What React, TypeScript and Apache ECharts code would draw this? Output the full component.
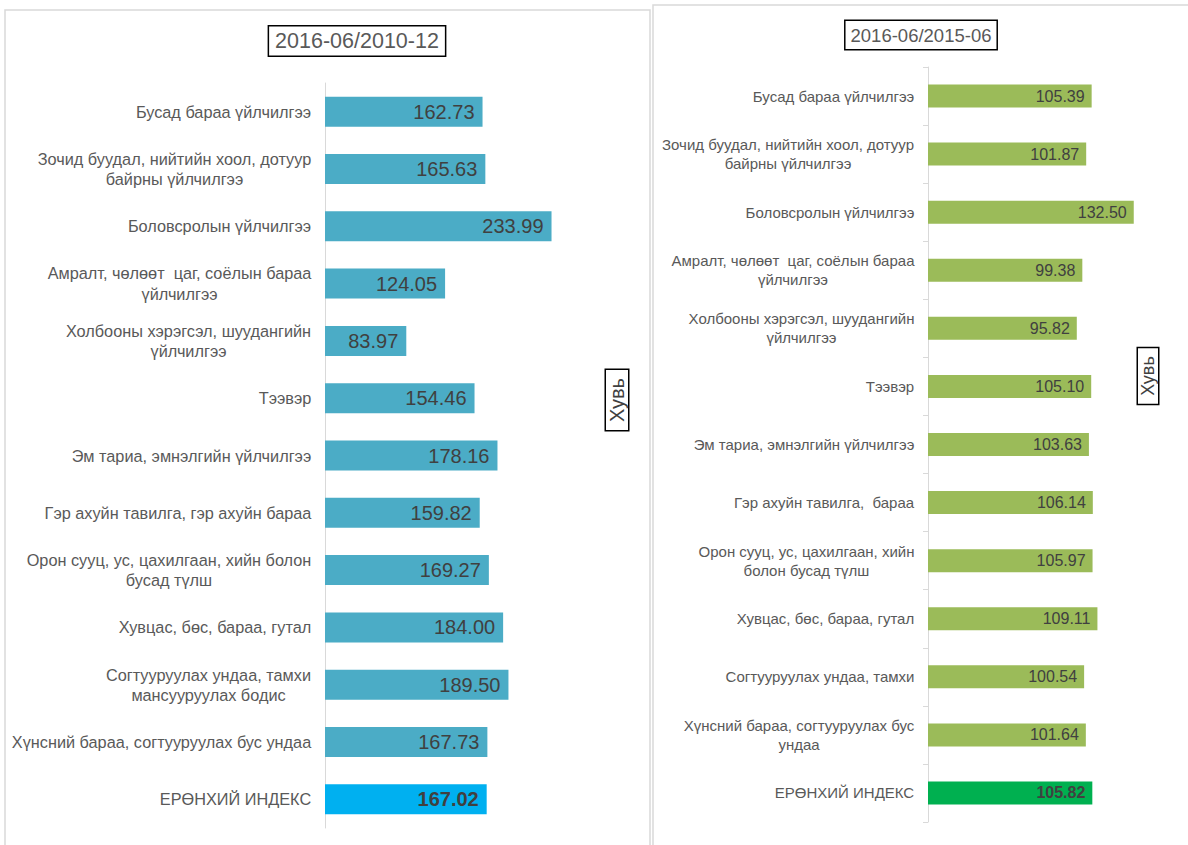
import React, { useEffect, useRef } from "react";
import * as echarts from "echarts";

const leftTitle = "2016-06/2010-12";
const rightTitle = "2016-06/2015-06";
const axisName = "Хувь";

const leftCategories = [
  "Бусад бараа үйлчилгээ",
  "Зочид буудал, нийтийн хоол, дотуур\nбайрны үйлчилгээ",
  "Боловсролын үйлчилгээ",
  "Амралт, чөлөөт  цаг, соёлын бараа\nүйлчилгээ",
  "Холбооны хэрэгсэл, шуудангийн\nүйлчилгээ",
  "Тээвэр",
  "Эм тариа, эмнэлгийн үйлчилгээ",
  "Гэр ахуйн тавилга, гэр ахуйн бараа",
  "Орон сууц, ус, цахилгаан, хийн болон\nбусад түлш",
  "Хувцас, бөс, бараа, гутал",
  "Согтууруулах ундаа, тамхи\nмансууруулах бодис",
  "Хүнсний бараа, согтууруулах бус ундаа",
  "ЕРӨНХИЙ ИНДЕКС",
];
const leftValues = [162.73, 165.63, 233.99, 124.05, 83.97, 154.46, 178.16, 159.82, 169.27, 184.0, 189.5, 167.73, 167.02];

const rightCategories = [
  "Бусад бараа үйлчилгээ",
  "Зочид буудал, нийтийн хоол, дотуур\nбайрны үйлчилгээ",
  "Боловсролын үйлчилгээ",
  "Амралт, чөлөөт  цаг, соёлын бараа\nүйлчилгээ",
  "Холбооны хэрэгсэл, шуудангийн\nүйлчилгээ",
  "Тээвэр",
  "Эм тариа, эмнэлгийн үйлчилгээ",
  "Гэр ахуйн тавилга,  бараа",
  "Орон сууц, ус, цахилгаан, хийн\nболон бусад түлш",
  "Хувцас, бөс, бараа, гутал",
  "Согтууруулах ундаа, тамхи",
  "Хүнсний бараа, согтууруулах бус\nундаа",
  "ЕРӨНХИЙ ИНДЕКС",
];
const rightValues = [105.39, 101.87, 132.5, 99.38, 95.82, 105.1, 103.63, 106.14, 105.97, 109.11, 100.54, 101.64, 105.82];

const FONT = "'Liberation Sans', Arial, sans-serif";

function measure(text: string, size: number): number {
  const c = document.createElement("canvas").getContext("2d") as CanvasRenderingContext2D;
  c.font = `${size}px ${FONT}`;
  return Math.max(...text.split("\n").map((l) => c.measureText(l).width));
}

function richFor(cats: string[], size: number) {
  const rich: Record<string, any> = {};
  cats.forEach((c, i) => {
    rich["l" + i] = {
      width: Math.ceil(measure(c, size)) + 1,
      align: "center",
      fontSize: size,
      fontFamily: FONT,
      color: "#595959",
      lineHeight: size + 4,
    };
  });
  return rich;
}

export default function App() {
  const ref = useRef<HTMLDivElement>(null);
  useEffect(() => {
    document.body.style.margin = "0";
    const chart = echarts.init(ref.current!, null, { renderer: "svg" });
    const lastL = leftValues.length - 1;
    const lastR = rightValues.length - 1;
    const leftSize = 16.3;
    const rightSize = 15;
    chart.setOption({
      animation: false,
      backgroundColor: "#fff",
      textStyle: { fontFamily: FONT },
      grid: [
        { left: 325, top: 83, width: 251.7, height: 745, containLabel: false, outerBoundsMode: "none" },
        { left: 928, top: 67, width: 217.4, height: 755, containLabel: false, outerBoundsMode: "none" },
      ],
      xAxis: [
        { type: "value", gridIndex: 0, min: 0, max: 260, show: false },
        { type: "value", gridIndex: 1, min: 0, max: 140, show: false },
      ],
      yAxis: [
        {
          type: "category",
          gridIndex: 0,
          inverse: true,
          data: leftCategories,
          axisLine: { lineStyle: { color: "#d9d9d9", width: 1 } },
          axisTick: { show: false },
          axisLabel: {
            margin: 13,
            interval: 0,
            formatter: (v: string, i: number) => `{l${i}|${v}}`,
            rich: richFor(leftCategories, leftSize),
          },
        },
        {
          type: "category",
          gridIndex: 1,
          inverse: true,
          data: rightCategories,
          axisLine: { lineStyle: { color: "#d9d9d9", width: 1 } },
          axisTick: { show: true, length: 5, lineStyle: { color: "#d9d9d9" } },
          axisLabel: {
            margin: 13,
            interval: 0,
            formatter: (v: string, i: number) => `{l${i}|${v}}`,
            rich: richFor(rightCategories, rightSize),
          },
        },
      ],
      series: [
        {
          type: "bar",
          xAxisIndex: 0,
          yAxisIndex: 0,
          barWidth: 30,
          itemStyle: { color: "#4BACC6" },
          label: {
            show: true,
            position: "insideRight",
            distance: 8,
            color: "#404040",
            fontSize: 20,
            fontFamily: FONT,
            formatter: (p: any) => p.value.toFixed(2),
          },
          data: leftValues.map((v, i) =>
            i === lastL
              ? { value: v, itemStyle: { color: "#00B0F0" }, label: { fontWeight: "bold" } }
              : v
          ),
        },
        {
          type: "bar",
          xAxisIndex: 1,
          yAxisIndex: 1,
          barWidth: 23,
          itemStyle: { color: "#9BBB59" },
          label: {
            show: true,
            position: "insideRight",
            distance: 7,
            color: "#404040",
            fontSize: 16,
            fontFamily: FONT,
            formatter: (p: any) => p.value.toFixed(2),
          },
          data: rightValues.map((v, i) =>
            i === lastR
              ? { value: v, itemStyle: { color: "#00B050" }, label: { fontWeight: "bold" } }
              : v
          ),
        },
      ],
      graphic: [
        {
          type: "rect",
          silent: true,
          z: -1,
          shape: { x: 5, y: 10, width: 645, height: 860 },
          style: { fill: "none", stroke: "#d9d9d9", lineWidth: 1.5 },
        },
        {
          type: "rect",
          silent: true,
          z: -1,
          shape: { x: 653, y: 5, width: 545, height: 860 },
          style: { fill: "none", stroke: "#d9d9d9", lineWidth: 1.5 },
        },
        {
          type: "text",
          x: 357,
          y: 41,
          style: {
            text: leftTitle,
            fontSize: 21.5,
            fontFamily: FONT,
            fill: "#595959",
            align: "center",
            verticalAlign: "middle",
            backgroundColor: "#fff",
            borderColor: "#000",
            borderWidth: 1.5,
            padding: [4, 6, 3, 6],
          },
        },
        {
          type: "text",
          x: 921,
          y: 35,
          style: {
            text: rightTitle,
            fontSize: 18.5,
            fontFamily: FONT,
            fill: "#595959",
            align: "center",
            verticalAlign: "middle",
            backgroundColor: "#fff",
            borderColor: "#000",
            borderWidth: 1.5,
            padding: [5, 5, 4, 5],
          },
        },
        {
          type: "text",
          x: 617,
          y: 400,
          rotation: Math.PI / 2,
          style: {
            text: axisName,
            fontSize: 20,
            fontFamily: FONT,
            fill: "#404040",
            align: "center",
            verticalAlign: "middle",
            backgroundColor: "#fff",
            borderColor: "#000",
            borderWidth: 1.5,
            padding: [1, 8, 1, 8],
          },
        },
        {
          type: "text",
          x: 1148,
          y: 376,
          rotation: Math.PI / 2,
          style: {
            text: axisName,
            fontSize: 18,
            fontFamily: FONT,
            fill: "#404040",
            align: "center",
            verticalAlign: "middle",
            backgroundColor: "#fff",
            borderColor: "#000",
            borderWidth: 1.5,
            padding: [1, 8, 1, 8],
          },
        },
      ],
    });
    return () => chart.dispose();
  }, []);
  return <div ref={ref} style={{ position: "absolute", left: 0, top: 0, width: 1188, height: 845 }} />;
}
